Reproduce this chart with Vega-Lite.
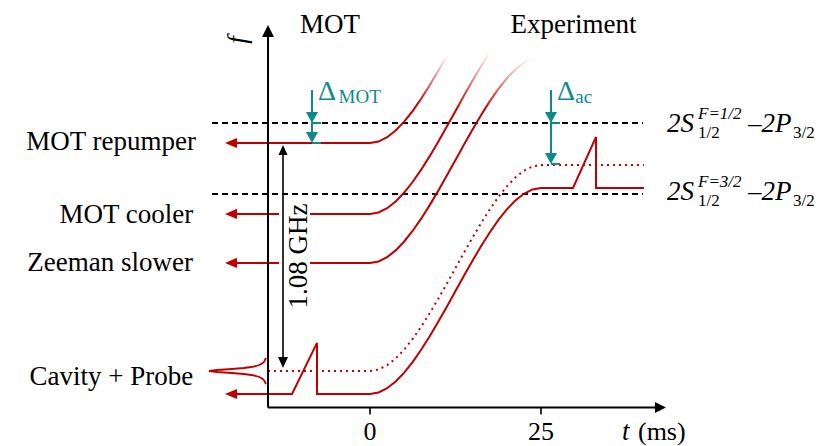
{
  "$schema": "https://vega.github.io/schema/vega-lite/v6.json",
  "width": 823,
  "height": 446,
  "autosize": "none",
  "padding": 0,
  "background": "white",
  "config": {"view": {"stroke": null}, "font": "Liberation Serif"},
  "encoding": {
    "x": {"field": "t", "type": "quantitative", "scale": {"domain": [-54.094, 66.228], "nice": false, "zero": false}, "axis": null},
    "y": {"field": "f", "type": "quantitative", "scale": {"domain": [-0.3553, 1.7575], "nice": false, "zero": false}, "axis": null}
  },
  "layer": [
    {
      "data": {"values": [
        {"t": -23.1, "f": 1.175, "t2": 39.9, "f2": 1.175},
        {"t": -23.1, "f": 0.838, "t2": 39.9, "f2": 0.838}
      ]},
      "mark": {"type": "rule", "color": "#000000", "strokeWidth": 2, "strokeDash": [6, 4]},
      "encoding": {"x2": {"field": "t2"}, "y2": {"field": "f2"}}
    },
    {
      "data": {"values": [
        {"t": -20.5, "f": 0.744, "t2": -13.3, "f2": 0.744},
        {"t": -20.5, "f": 0.512, "t2": -13.3, "f2": 0.512}
      ]},
      "mark": {"type": "rule", "color": "#c00000", "strokeWidth": 2},
      "encoding": {"x2": {"field": "t2"}, "y2": {"field": "f2"}}
    },
    {
      "data": {"values": [
        {"i": 0, "t": -20.5, "f": -0.109}, {"i": 1, "t": -11.4, "f": -0.109}, {"i": 2, "t": -7.75, "f": 0.133},
        {"i": 3, "t": -7.75, "f": -0.109}, {"i": 4, "t": 0, "f": -0.109}, {"i": 5, "t": 1.25, "f": -0.10192},
        {"i": 6, "t": 2.5, "f": -0.08167}, {"i": 7, "t": 3.75, "f": -0.04971}, {"i": 8, "t": 5, "f": -0.0075},
        {"i": 9, "t": 6.25, "f": 0.0435}, {"i": 10, "t": 7.5, "f": 0.10182}, {"i": 11, "t": 8.75, "f": 0.16599},
        {"i": 12, "t": 10, "f": 0.23455}, {"i": 13, "t": 11.25, "f": 0.30604}, {"i": 14, "t": 12.5, "f": 0.379},
        {"i": 15, "t": 13.75, "f": 0.45196}, {"i": 16, "t": 15, "f": 0.52345}, {"i": 17, "t": 16.25, "f": 0.59201},
        {"i": 18, "t": 17.5, "f": 0.65618}, {"i": 19, "t": 18.75, "f": 0.7145}, {"i": 20, "t": 20, "f": 0.7655},
        {"i": 21, "t": 21.25, "f": 0.80771}, {"i": 22, "t": 22.5, "f": 0.83967}, {"i": 23, "t": 23.75, "f": 0.85992},
        {"i": 24, "t": 25, "f": 0.867}, {"i": 25, "t": 29.68, "f": 0.867}, {"i": 26, "t": 33.04, "f": 1.109},
        {"i": 27, "t": 33.04, "f": 0.867}, {"i": 28, "t": 40.06, "f": 0.867}
      ]},
      "mark": {"type": "line", "color": "#c00000", "strokeWidth": 2},
      "encoding": {"order": {"field": "i", "type": "quantitative"}}
    },
    {
      "data": {"values": [
        {"t": -14.91, "f": 0}, {"t": 0, "f": 0}, {"t": 1.25, "f": 0.00708}, {"t": 2.5, "f": 0.02733},
        {"t": 3.75, "f": 0.05929}, {"t": 5, "f": 0.1015}, {"t": 6.25, "f": 0.1525}, {"t": 7.5, "f": 0.21082},
        {"t": 8.75, "f": 0.27499}, {"t": 10, "f": 0.34355}, {"t": 11.25, "f": 0.41504}, {"t": 12.5, "f": 0.488},
        {"t": 13.75, "f": 0.56096}, {"t": 15, "f": 0.63245}, {"t": 16.25, "f": 0.70101}, {"t": 17.5, "f": 0.76518},
        {"t": 18.75, "f": 0.8235}, {"t": 20, "f": 0.8745}, {"t": 21.25, "f": 0.91671}, {"t": 22.5, "f": 0.94867},
        {"t": 23.75, "f": 0.96892}, {"t": 25, "f": 0.976}, {"t": 40.06, "f": 0.976}
      ]},
      "mark": {"type": "line", "color": "#c00000", "strokeWidth": 2, "strokeDash": [2, 4]}
    },
    {
      "data": {"values": [
        {"i": 0, "t": -15.22, "f": 0.0616}, {"i": 1, "t": -15.42, "f": 0.0474}, {"i": 2, "t": -15.68, "f": 0.0379},
        {"i": 3, "t": -16.18, "f": 0.0284}, {"i": 4, "t": -16.64, "f": 0.0237}, {"i": 5, "t": -17.34, "f": 0.0189},
        {"i": 6, "t": -18.45, "f": 0.0142}, {"i": 7, "t": -20.18, "f": 0.0095}, {"i": 8, "t": -22.35, "f": 0.0047},
        {"i": 9, "t": -23.54, "f": 0}, {"i": 10, "t": -22.35, "f": -0.0047}, {"i": 11, "t": -20.18, "f": -0.0095},
        {"i": 12, "t": -18.45, "f": -0.0142}, {"i": 13, "t": -17.34, "f": -0.0189}, {"i": 14, "t": -16.64, "f": -0.0237},
        {"i": 15, "t": -16.18, "f": -0.0284}, {"i": 16, "t": -15.68, "f": -0.0379}, {"i": 17, "t": -15.42, "f": -0.0474},
        {"i": 18, "t": -15.22, "f": -0.0616}
      ]},
      "mark": {"type": "line", "color": "#c00000", "strokeWidth": 1.8},
      "encoding": {"order": {"field": "i", "type": "quantitative"}}
    },
    {
      "data": {"values": [
        {"t": -20.5, "f": 1.08}, {"t": 0, "f": 1.08}, {"t": 1.25, "f": 1.08708}, {"t": 2.5, "f": 1.10733},
        {"t": 3.75, "f": 1.13929}, {"t": 5, "f": 1.1815}, {"t": 6.25, "f": 1.2325}, {"t": 7.5, "f": 1.29082},
        {"t": 8.75, "f": 1.35499}, {"t": 10, "f": 1.42355}, {"t": 11.25, "f": 1.49504}
      ]},
      "mark": {"type": "line", "strokeWidth": 2,
        "stroke": {"gradient": "linear", "x1": 0, "y1": 1, "x2": 0, "y2": 0,
          "stops": [{"offset": 0, "color": "#c00000"}, {"offset": 0.45, "color": "#c00000"}, {"offset": 1, "color": "#ffffff"}]}}
    },
    {
      "data": {"values": [
        {"t": -8.77, "f": 0.744}, {"t": 0, "f": 0.744}, {"t": 1.25, "f": 0.75108}, {"t": 2.5, "f": 0.77133},
        {"t": 3.75, "f": 0.80329}, {"t": 5, "f": 0.8455}, {"t": 6.25, "f": 0.8965}, {"t": 7.5, "f": 0.95482},
        {"t": 8.75, "f": 1.01899}, {"t": 10, "f": 1.08755}, {"t": 11.25, "f": 1.15904}, {"t": 12.5, "f": 1.232},
        {"t": 13.75, "f": 1.30496}, {"t": 15, "f": 1.37645}, {"t": 16.25, "f": 1.44501}, {"t": 17.5, "f": 1.50918}
      ]},
      "mark": {"type": "line", "strokeWidth": 2,
        "stroke": {"gradient": "linear", "x1": 0, "y1": 1, "x2": 0, "y2": 0,
          "stops": [{"offset": 0, "color": "#c00000"}, {"offset": 0.65, "color": "#c00000"}, {"offset": 1, "color": "#ffffff"}]}}
    },
    {
      "data": {"values": [
        {"t": -8.77, "f": 0.512}, {"t": 0, "f": 0.512}, {"t": 1.25, "f": 0.51908}, {"t": 2.5, "f": 0.53933},
        {"t": 3.75, "f": 0.57129}, {"t": 5, "f": 0.6135}, {"t": 6.25, "f": 0.6645}, {"t": 7.5, "f": 0.72282},
        {"t": 8.75, "f": 0.78699}, {"t": 10, "f": 0.85555}, {"t": 11.25, "f": 0.92704}, {"t": 12.5, "f": 1.0},
        {"t": 13.75, "f": 1.07296}, {"t": 15, "f": 1.14445}, {"t": 16.25, "f": 1.21301}, {"t": 17.5, "f": 1.27718},
        {"t": 18.75, "f": 1.3355}, {"t": 20, "f": 1.3865}, {"t": 21.25, "f": 1.42871}, {"t": 22.5, "f": 1.46067},
        {"t": 23.75, "f": 1.48092}
      ]},
      "mark": {"type": "line", "strokeWidth": 2,
        "stroke": {"gradient": "linear", "x1": 0, "y1": 1, "x2": 0, "y2": 0,
          "stops": [{"offset": 0, "color": "#c00000"}, {"offset": 0.75, "color": "#c00000"}, {"offset": 1, "color": "#ffffff"}]}}
    },
    {
      "data": {"values": [
        {"t": -14.91, "f": -0.173, "t2": -14.91, "f2": 1.6},
        {"t": -14.91, "f": -0.173, "t2": 42.5, "f2": -0.173}
      ]},
      "mark": {"type": "rule", "color": "#000000", "strokeWidth": 2},
      "encoding": {"x2": {"field": "t2"}, "y2": {"field": "f2"}}
    },
    {
      "data": {"values": [
        {"t": 0, "f": -0.173, "t2": 0, "f2": -0.206},
        {"t": 25, "f": -0.173, "t2": 25, "f2": -0.206},
        {"t": -12.72, "f": 0.03, "t2": -12.72, "f2": 1.06}
      ]},
      "mark": {"type": "rule", "color": "#000000", "strokeWidth": 1.6},
      "encoding": {"x2": {"field": "t2"}, "y2": {"field": "f2"}}
    },
    {
      "data": {"values": [
        {"t": -8.48, "f": 1.331, "t2": -8.48, "f2": 1.09},
        {"t": 26.46, "f": 1.331, "t2": 26.46, "f2": 0.99},
        {"t": -8.48, "f": 1.175, "t2": -7.16, "f2": 1.175},
        {"t": -8.48, "f": 1.08, "t2": -7.16, "f2": 1.08},
        {"t": 26.46, "f": 1.175, "t2": 27.78, "f2": 1.175},
        {"t": 26.46, "f": 0.981, "t2": 27.78, "f2": 0.981}
      ]},
      "mark": {"type": "rule", "color": "#0e8a8a", "strokeWidth": 2},
      "encoding": {"x2": {"field": "t2"}, "y2": {"field": "f2"}}
    },
    {
      "data": {"values": [{"t": -21.2, "f": 1.08}, {"t": -21.2, "f": 0.744}, {"t": -21.2, "f": 0.512}, {"t": -21.2, "f": -0.109}]},
      "mark": {"type": "point", "filled": true, "opacity": 1, "color": "#c00000", "strokeWidth": 0, "size": 144, "shape": "M0,0L2,-0.85L2,0.85Z"}
    },
    {
      "data": {"values": [{"t": -14.91, "f": 1.639}]},
      "mark": {"type": "point", "filled": true, "opacity": 1, "color": "#000000", "strokeWidth": 0, "size": 144, "shape": "M0,0L-1,2L1,2Z"}
    },
    {
      "data": {"values": [{"t": 43.27, "f": -0.173}]},
      "mark": {"type": "point", "filled": true, "opacity": 1, "color": "#000000", "strokeWidth": 0, "size": 121, "shape": "M0,0L-2,-1L-2,1Z"}
    },
    {
      "data": {"values": [{"t": -12.72, "f": 1.071}]},
      "mark": {"type": "point", "filled": true, "opacity": 1, "color": "#000000", "strokeWidth": 0, "size": 100, "shape": "M0,0L-0.9,2L0.9,2Z"}
    },
    {
      "data": {"values": [{"t": -12.72, "f": 0.0142}]},
      "mark": {"type": "point", "filled": true, "opacity": 1, "color": "#000000", "strokeWidth": 0, "size": 121, "shape": "M0,0L-0.9,-2L0.9,-2Z"}
    },
    {
      "data": {"values": [{"t": -8.48, "f": 1.175}, {"t": -8.48, "f": 1.08}, {"t": 26.46, "f": 1.175}, {"t": 26.46, "f": 0.981}]},
      "mark": {"type": "point", "filled": true, "opacity": 1, "color": "#0e8a8a", "strokeWidth": 0, "size": 121, "shape": "M0,0L-1.1,-2L1.1,-2Z"}
    },
    {
      "data": {"values": [
        {"t": -25.44, "f": 1.049, "label": "MOT repumper"},
        {"t": -25.83, "f": 0.7, "label": "MOT cooler"},
        {"t": -25.88, "f": 0.475, "label": "Zeeman slower"},
        {"t": -25.83, "f": -0.0663, "label": "Cavity + Probe"}
      ]},
      "mark": {"type": "text", "align": "right", "baseline": "alphabetic", "font": "Liberation Serif", "fontSize": 27, "color": "#000000"},
      "encoding": {"text": {"field": "label"}}
    },
    {
      "data": {"values": [
        {"t": -5.85, "f": 1.6, "label": "MOT"},
        {"t": 29.75, "f": 1.6, "label": "Experiment"}
      ]},
      "mark": {"type": "text", "align": "center", "baseline": "alphabetic", "font": "Liberation Serif", "fontSize": 27, "color": "#000000"},
      "encoding": {"text": {"field": "label"}}
    },
    {
      "data": {"values": [
        {"t": 0, "f": -0.327, "label": "0"},
        {"t": 25, "f": -0.327, "label": "25"}
      ]},
      "mark": {"type": "text", "align": "center", "baseline": "alphabetic", "font": "Liberation Serif", "fontSize": 26, "color": "#000000"},
      "encoding": {"text": {"field": "label"}}
    },
    {
      "data": {"values": [{"t": 36.84, "f": -0.327, "label": "t"}]},
      "mark": {"type": "text", "align": "left", "baseline": "alphabetic", "font": "Liberation Serif", "fontStyle": "italic", "fontSize": 27, "color": "#000000"},
      "encoding": {"text": {"field": "label"}}
    },
    {
      "data": {"values": [{"t": 39.18, "f": -0.327, "label": "(ms)"}]},
      "mark": {"type": "text", "align": "left", "baseline": "alphabetic", "font": "Liberation Serif", "fontSize": 26, "color": "#000000"},
      "encoding": {"text": {"field": "label"}}
    },
    {
      "data": {"values": [{"t": -19.3, "f": 1.568, "label": "f"}]},
      "mark": {"type": "text", "align": "center", "baseline": "middle", "angle": 270, "font": "Liberation Serif", "fontStyle": "italic", "fontSize": 27, "color": "#000000"},
      "encoding": {"text": {"field": "label"}}
    },
    {
      "data": {"values": [{"t": -10.38, "f": 0.545, "label": "1.08 GHz"}]},
      "mark": {"type": "text", "align": "center", "baseline": "middle", "angle": 270, "font": "Liberation Serif", "fontSize": 27, "color": "#000000"},
      "encoding": {"text": {"field": "label"}}
    },
    {
      "data": {"values": [
        {"t": -7.6, "f": 1.286, "label": "Δ"},
        {"t": 27.34, "f": 1.286, "label": "Δ"}
      ]},
      "mark": {"type": "text", "align": "left", "baseline": "alphabetic", "font": "Liberation Serif", "fontSize": 28, "color": "#0e8a8a"},
      "encoding": {"text": {"field": "label"}}
    },
    {
      "data": {"values": [
        {"t": -4.6, "f": 1.2696, "label": "MOT"},
        {"t": 30.0, "f": 1.2696, "label": "ac"}
      ]},
      "mark": {"type": "text", "align": "left", "baseline": "alphabetic", "font": "Liberation Serif", "fontSize": 19, "color": "#0e8a8a"},
      "encoding": {"text": {"field": "label"}}
    },
    {
      "data": {"values": [
        {"t": 43.42, "f": 1.132, "sup": "F=1/2"},
        {"t": 43.42, "f": 0.81, "sup": "F=3/2"}
      ]},
      "layer": [
        {"mark": {"type": "text", "align": "left", "baseline": "alphabetic", "font": "Liberation Serif", "fontStyle": "italic", "fontSize": 27, "color": "#000000", "text": "2S"}},
        {"mark": {"type": "text", "align": "left", "baseline": "alphabetic", "font": "Liberation Serif", "fontStyle": "italic", "fontSize": 17, "color": "#000000", "dx": 31, "dy": -13},
         "encoding": {"text": {"field": "sup"}}},
        {"mark": {"type": "text", "align": "left", "baseline": "alphabetic", "font": "Liberation Serif", "fontSize": 17, "color": "#000000", "dx": 31, "dy": 6, "text": "1/2"}},
        {"mark": {"type": "text", "align": "left", "baseline": "alphabetic", "font": "Liberation Serif", "fontStyle": "italic", "fontSize": 27, "color": "#000000", "dx": 81, "text": "–2P"}},
        {"mark": {"type": "text", "align": "left", "baseline": "alphabetic", "font": "Liberation Serif", "fontSize": 17, "color": "#000000", "dx": 126, "dy": 6, "text": "3/2"}}
      ]
    }
  ]
}
